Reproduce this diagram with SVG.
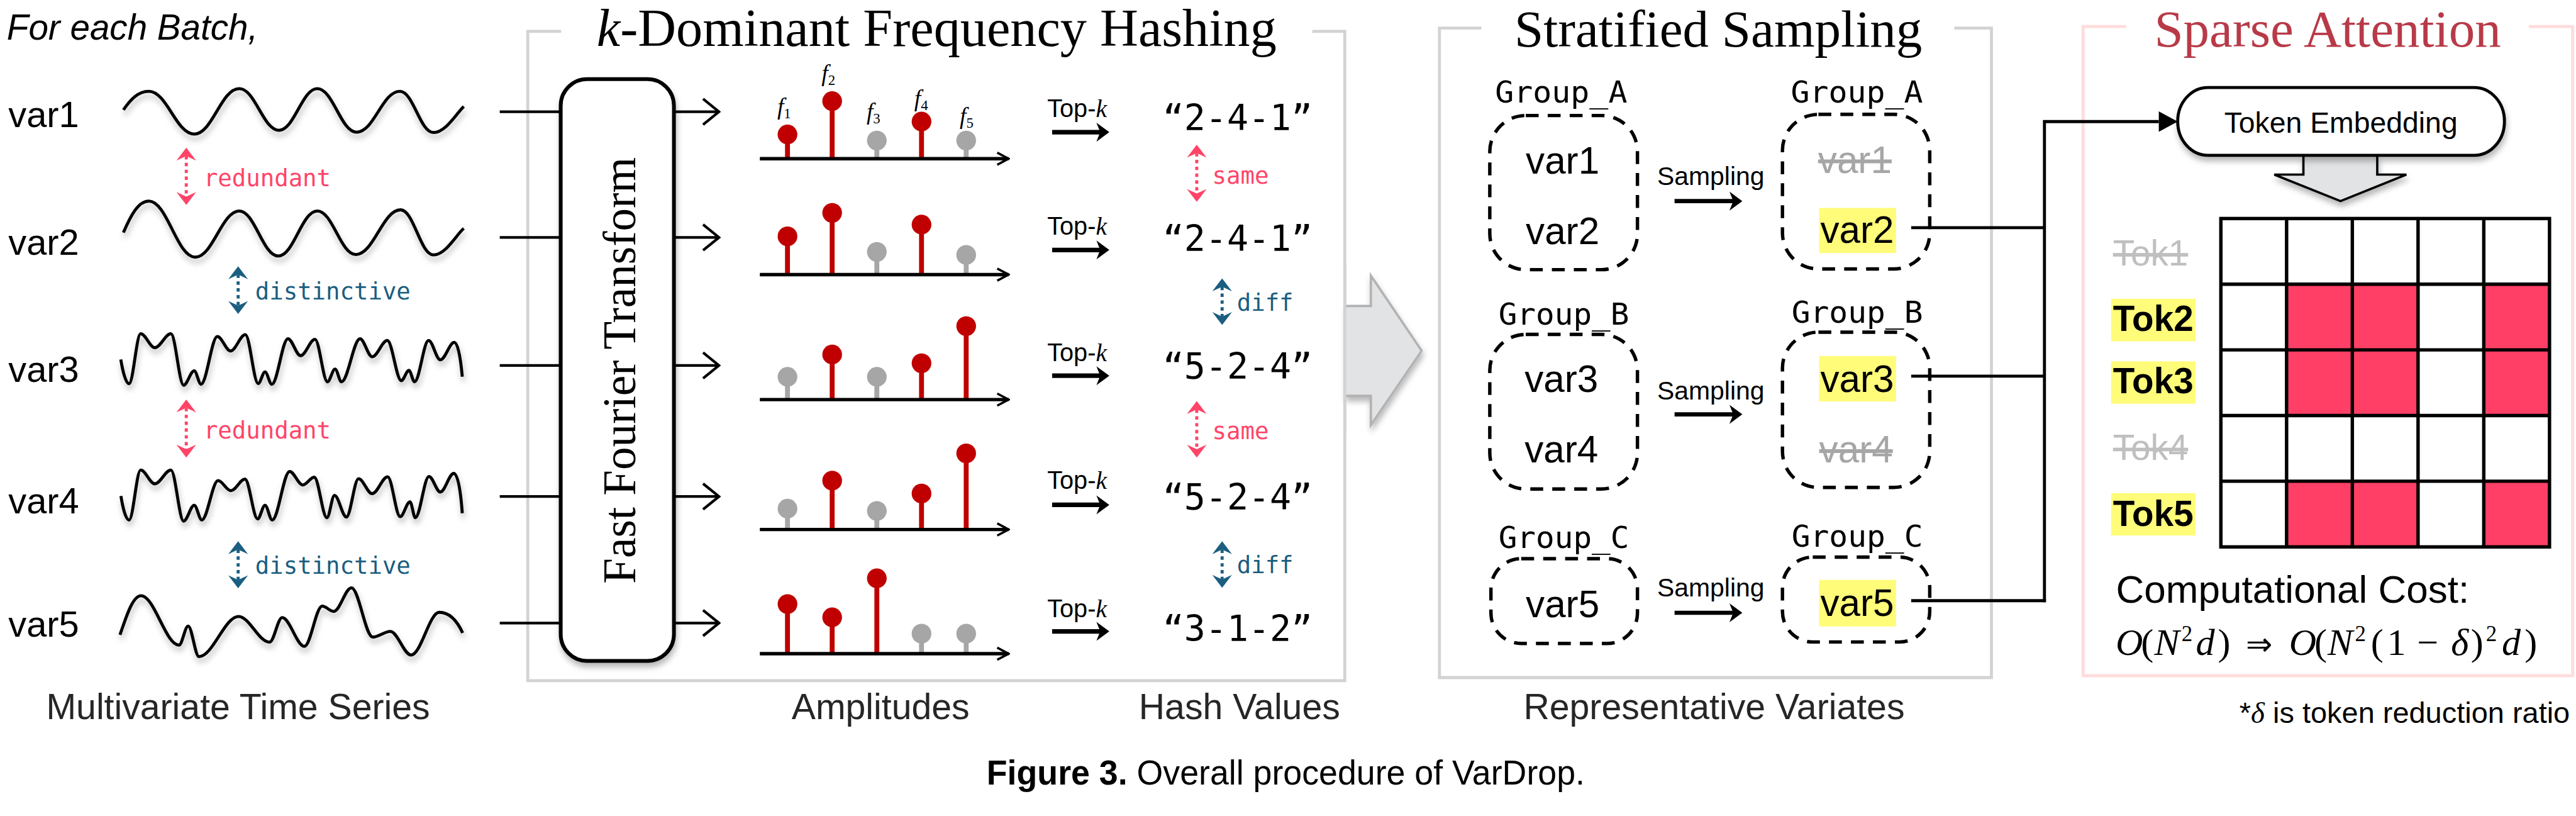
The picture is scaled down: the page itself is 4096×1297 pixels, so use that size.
<svg xmlns="http://www.w3.org/2000/svg" width="4096" height="1297" viewBox="0 0 4096 1297">
<style>
.sans{font-family:"Liberation Sans",Arial,sans-serif}
.serif{font-family:"Liberation Serif","Times New Roman",serif}
.mono{font-family:"DejaVu Sans Mono",monospace}
.wave{fill:none;stroke:#000;stroke-width:8;stroke-linejoin:round}
.ln{fill:none;stroke:#000;stroke-width:7}
.bus{fill:none;stroke:#000;stroke-width:8}
.sr{stroke:#C00000;stroke-width:13}
.sg{stroke:#A6A6A6;stroke-width:13}
.hr{fill:#C00000}
.hg{fill:#A6A6A6}
.axis{stroke:#000;stroke-width:9;marker-end:url(#axh)}
.thk{stroke:#000;stroke-width:12;marker-end:url(#thh)}
.dp{stroke:#FF4468;stroke-width:8;stroke-dasharray:9 9;marker-start:url(#hp);marker-end:url(#hp)}
.dt{stroke:#1B5E80;stroke-width:8;stroke-dasharray:9 9;marker-start:url(#ht);marker-end:url(#ht)}
.pk{fill:#FF4468}
.tl{fill:#1B5E80}
.grp{fill:none;stroke:#000;stroke-width:9;stroke-dasharray:34 24}
.frame{fill:none;stroke:#D3D3D3;stroke-width:8}
.hot{fill:#FF3F66}
.hl{fill:#FFFC7A}
.cap{fill:#262626}
.gone{fill:#A6A6A6;text-decoration:line-through}
.gone2{fill:#BFBFBF;text-decoration:line-through}
</style>
<defs>
<filter id="sh" x="-20%" y="-20%" width="140%" height="170%">
<feDropShadow dx="3" dy="12" stdDeviation="8" flood-color="#000" flood-opacity="0.28"/>
</filter>
<marker id="hp" markerUnits="userSpaceOnUse" orient="auto-start-reverse" viewBox="-14 -28 38 56" markerWidth="38" markerHeight="56" refX="0" refY="0"><path d="M22,0 L-12,-26 L0,0 L-12,26 Z" fill="#FF4468"/></marker>
<marker id="ht" markerUnits="userSpaceOnUse" orient="auto-start-reverse" viewBox="-14 -28 38 56" markerWidth="38" markerHeight="56" refX="0" refY="0"><path d="M22,0 L-12,-26 L0,0 L-12,26 Z" fill="#1B5E80"/></marker>
<marker id="thh" markerUnits="userSpaceOnUse" orient="auto" viewBox="-16 -27 38 54" markerWidth="38" markerHeight="54" refX="0" refY="0"><path d="M20,0 L-14,-25 L-4,0 L-14,25 Z" fill="#000"/></marker>
<marker id="tri" markerUnits="userSpaceOnUse" orient="auto" viewBox="-2 -28 54 56" markerWidth="54" markerHeight="56" refX="0" refY="0"><path d="M50,0 L0,-27 L0,27 Z" fill="#000"/></marker>
<marker id="opn" markerUnits="userSpaceOnUse" orient="auto" viewBox="-46 -38 50 76" markerWidth="50" markerHeight="76" refX="0" refY="0"><path d="M-42,-34 L0,0 L-42,34" fill="none" stroke="#000" stroke-width="7"/></marker>
<marker id="axh" markerUnits="userSpaceOnUse" orient="auto" viewBox="-34 -20 38 40" markerWidth="38" markerHeight="40" refX="0" refY="0"><path d="M-30,-16 L0,0 L-30,16" fill="none" stroke="#000" stroke-width="6"/></marker>
</defs>
<rect width="4096" height="1297" fill="#fff"/>
<g transform="scale(0.602)">

<!-- frames -->
<g id="frames">
<path class="frame" d="M1482,83 H1394 V1797 H3552 V83 H3466"/>
<path d="M3552,808 H3621 V728 L3755,926 L3621,1122 V1045 H3552" fill="#E2E3E5" stroke="#B2B2B2" stroke-width="6" filter="url(#sh)"/>
<path class="frame" d="M3552,700 V1150"/>
<path class="frame" d="M3913,74 H3802 V1789 H5260 V74 H5162"/>
<path class="frame" style="stroke:#FFDCDC" d="M5616,70 H5502 V1784 H6795 V70 H6679"/>
<text class="serif" x="1576" y="121" font-size="140"><tspan font-style="italic">k</tspan>-Dominant Frequency Hashing</text>
<text class="serif" x="4000" y="123" font-size="138">Stratified Sampling</text>
<text class="serif" x="5690" y="123" font-size="138" fill="#B83A48">Sparse Attention</text>
</g>

<!-- left: multivariate series -->
<g id="series">
<text class="sans" x="18" y="105" font-size="94" font-style="italic">For each Batch,</text>
<g id="var1"><text class="sans" x="22" y="335" font-size="96">var1</text>
<path class="wave" filter="url(#sh)" d="M326,290 C345,262 365,241 393,241 C441,241 465,354 513,354 C561,354 584,234 632,234 C674,234 695,344 737,344 C777,344 798,234 838,234 C880,234 900,349 942,349 C988,349 1010,241 1056,241 C1092,241 1109,350 1145,350 C1177,350 1205,300 1225,281"/></g>
<g id="var2"><text class="sans" x="22" y="673" font-size="96">var2</text>
<path class="wave" filter="url(#sh)" d="M326,614 C345,570 365,531 393,531 C442,531 467,679 516,679 C562,679 586,557 632,557 C673,557 694,676 735,676 C776,676 797,557 838,557 C879,557 899,672 940,672 C987,672 1011,554 1058,554 C1093,554 1110,673 1145,673 C1177,673 1205,620 1225,603"/></g>
<g id="var3"><text class="sans" x="22" y="1008" font-size="96">var3</text>
<path class="wave" filter="url(#sh)" d="M319,949 C325,985 333,1013 341,1013 C351.7,1013 360.8,881 371.5,881 C384.6,881 395.9,918 409,918 C423.9,918 436.6,881 451.5,881 C463.2,881 473.3,1017 485,1017 C494.8,1017 503.2,979 513,979 C519.3,979 524.7,1014.5 531,1014.5 C546,1014.5 559,888.5 574,888.5 C586.3,888.5 596.7,926.6 609,926.6 C622.7,926.6 634.3,883.6 648,883.6 C659.9,883.6 670.1,1012.7 682,1012.7 C688.3,1012.7 693.7,982 700,982 C706.3,982 711.7,1014.5 718,1014.5 C732.9,1014.5 745.6,894.5 760.5,894.5 C772.2,894.5 782.3,939 794,939 C807.3,939 818.7,896 832,896 C843.6,896 853.4,1008 865,1008 C872,1008 878,974.5 885,974.5 C891,974.5 896,1008 902,1008 C919.2,1008 933.8,894.5 951,894.5 C962.2,894.5 971.8,942 983,942 C997,942 1009,899 1023,899 C1036,899 1047,1005 1060,1005 C1067,1005 1073,978 1080,978 C1085.3,978 1089.7,1008 1095,1008 C1108,1008 1119,899 1132,899 C1142.9,899 1152.1,950 1163,950 C1176,950 1187,904 1200,904 C1210,904 1217,950 1221,994.5"/></g>
<g id="var4"><text class="sans" x="22" y="1355" font-size="96">var4</text>
<path class="wave" filter="url(#sh)" d="M319.4,1309.6 C325,1345 333,1373 341,1373 C351.7,1373 360.8,1241 371.5,1241 C384.6,1241 395.9,1277.4 409,1277.4 C423.9,1277.4 436.6,1241 451.5,1241 C463.2,1241 473.3,1376 485,1376 C494.8,1376 503.2,1334 513,1334 C520,1334 526,1373 533,1373 C548,1373 561,1269 576,1269 C587.9,1269 598.1,1295.6 610,1295.6 C623,1295.6 634,1265 647,1265 C658.7,1265 668.8,1370 680.5,1370 C687.3,1370 693.2,1334 700,1334 C706.7,1334 712.3,1373 719,1373 C735.1,1373 748.9,1245 765,1245 C777.3,1245 787.7,1280.5 800,1280.5 C810.5,1280.5 819.5,1260 830,1260 C841.7,1260 851.8,1367 863.5,1367 C870.5,1367 876.5,1308 883.5,1308 C894.5,1308 904,1365 915,1365 C926.2,1365 935.8,1264 947,1264 C959.6,1264 970.4,1303.5 983,1303.5 C997.4,1303.5 1009.6,1259 1024,1259 C1035.6,1259 1045.4,1364 1057,1364 C1066.1,1364 1073.9,1325 1083,1325 C1087.9,1325 1092.1,1367 1097,1367 C1109.6,1367 1120.4,1258 1133,1258 C1143.5,1258 1152.5,1299 1163,1299 C1175.4,1299 1186.1,1250 1198.5,1250 C1210,1250 1217,1300 1221,1355"/></g>
<g id="var5"><text class="sans" x="22" y="1681" font-size="96">var5</text>
<path class="wave" filter="url(#sh)" d="M317,1676 C333,1630 350,1573 372.7,1573 C407.7,1573 437.7,1703.4 472.7,1703.4 C481.2,1703.4 488.5,1653 497,1653 C506.9,1653 515.5,1733.7 525.4,1733.7 C562,1733.7 593.4,1627.6 630,1627.6 C658.7,1627.6 683.3,1695.5 712,1695.5 C723.7,1695.5 733.6,1630.7 745.3,1630.7 C765.8,1630.7 783.5,1706.4 804,1706.4 C820.5,1706.4 834.5,1600.4 851,1600.4 C861.7,1600.4 870.9,1614.3 881.6,1614.3 C897.9,1614.3 912,1552 928.3,1552 C948,1552 964.9,1682 984.6,1682 C1000.8,1682 1014.8,1667 1031,1667 C1050.2,1667 1066.6,1729.4 1085.8,1729.4 C1111.9,1729.4 1134.2,1616.7 1160.3,1616.7 C1190,1616.7 1210,1645 1222,1671"/></g>
<text class="mono pk" x="538" y="491" font-size="62">redundant</text>
<text class="mono tl" x="674" y="790" font-size="62">distinctive</text>
<text class="mono pk" x="538" y="1158" font-size="62">redundant</text>
<text class="mono tl" x="674" y="1515" font-size="62">distinctive</text>
<text class="sans cap" x="122" y="1898" font-size="95">Multivariate Time Series</text>
</g>

<!-- FFT -->
<g id="fft">
<rect x="1481" y="209" width="299" height="1536" rx="70" fill="#fff" stroke="#000" stroke-width="10" filter="url(#sh)"/>
<text class="serif" transform="translate(1677,978) rotate(-90)" text-anchor="middle" font-size="122" textLength="1126" lengthAdjust="spacingAndGlyphs">Fast Fourier Transform</text>
</g>

<!-- amplitudes -->
<g id="amplitudes">
<g id="amp1">
<line class="sr" x1="2080" y1="419" x2="2080" y2="355"/><line class="sr" x1="2198" y1="419" x2="2198" y2="267"/><line class="sg" x1="2316" y1="419" x2="2316" y2="371"/><line class="sr" x1="2434" y1="419" x2="2434" y2="321"/><line class="sg" x1="2552" y1="419" x2="2552" y2="371"/>
<circle class="hr" cx="2080" cy="355" r="26"/><circle class="hr" cx="2198" cy="267" r="26"/><circle class="hg" cx="2316" cy="371" r="26"/><circle class="hr" cx="2434" cy="321" r="26"/><circle class="hg" cx="2552" cy="371" r="26"/>
<line class="axis" x1="2007" y1="419" x2="2664" y2="419"/>
<g class="serif" font-size="62" font-style="italic">
<text x="2053" y="302">f<tspan font-style="normal" font-size="38" dy="10">1</tspan></text>
<text x="2170" y="214">f<tspan font-style="normal" font-size="38" dy="10">2</tspan></text>
<text x="2289" y="315">f<tspan font-style="normal" font-size="38" dy="10">3</tspan></text>
<text x="2415" y="280">f<tspan font-style="normal" font-size="38" dy="10">4</tspan></text>
<text x="2535" y="328">f<tspan font-style="normal" font-size="38" dy="10">5</tspan></text>
</g>
</g>
<g id="amp2">
<line class="sr" x1="2080" y1="725" x2="2080" y2="624"/><line class="sr" x1="2198" y1="725" x2="2198" y2="562"/><line class="sg" x1="2316" y1="725" x2="2316" y2="665"/><line class="sr" x1="2434" y1="725" x2="2434" y2="593"/><line class="sg" x1="2552" y1="725" x2="2552" y2="673"/>
<circle class="hr" cx="2080" cy="624" r="26"/><circle class="hr" cx="2198" cy="562" r="26"/><circle class="hg" cx="2316" cy="665" r="26"/><circle class="hr" cx="2434" cy="593" r="26"/><circle class="hg" cx="2552" cy="673" r="26"/>
<line class="axis" x1="2007" y1="725" x2="2664" y2="725"/>
</g>
<g id="amp3">
<line class="sg" x1="2080" y1="1055" x2="2080" y2="995"/><line class="sr" x1="2198" y1="1055" x2="2198" y2="936"/><line class="sg" x1="2316" y1="1055" x2="2316" y2="995"/><line class="sr" x1="2434" y1="1055" x2="2434" y2="959"/><line class="sr" x1="2552" y1="1055" x2="2552" y2="861"/>
<circle class="hg" cx="2080" cy="995" r="26"/><circle class="hr" cx="2198" cy="936" r="26"/><circle class="hg" cx="2316" cy="995" r="26"/><circle class="hr" cx="2434" cy="959" r="26"/><circle class="hr" cx="2552" cy="861" r="26"/>
<line class="axis" x1="2007" y1="1055" x2="2664" y2="1055"/>
</g>
<g id="amp4">
<line class="sg" x1="2080" y1="1398" x2="2080" y2="1343"/><line class="sr" x1="2198" y1="1398" x2="2198" y2="1269"/><line class="sg" x1="2316" y1="1398" x2="2316" y2="1349"/><line class="sr" x1="2434" y1="1398" x2="2434" y2="1303"/><line class="sr" x1="2552" y1="1398" x2="2552" y2="1197"/>
<circle class="hg" cx="2080" cy="1343" r="26"/><circle class="hr" cx="2198" cy="1269" r="26"/><circle class="hg" cx="2316" cy="1349" r="26"/><circle class="hr" cx="2434" cy="1303" r="26"/><circle class="hr" cx="2552" cy="1197" r="26"/>
<line class="axis" x1="2007" y1="1398" x2="2664" y2="1398"/>
</g>
<g id="amp5">
<line class="sr" x1="2080" y1="1726" x2="2080" y2="1595"/><line class="sr" x1="2198" y1="1726" x2="2198" y2="1630"/><line class="sr" x1="2316" y1="1726" x2="2316" y2="1527"/><line class="sg" x1="2434" y1="1726" x2="2434" y2="1673"/><line class="sg" x1="2552" y1="1726" x2="2552" y2="1673"/>
<circle class="hr" cx="2080" cy="1595" r="26"/><circle class="hr" cx="2198" cy="1630" r="26"/><circle class="hr" cx="2316" cy="1527" r="26"/><circle class="hg" cx="2434" cy="1673" r="26"/><circle class="hg" cx="2552" cy="1673" r="26"/>
<line class="axis" x1="2007" y1="1726" x2="2664" y2="1726"/>
</g>
<text class="sans cap" x="2091" y="1899" font-size="95">Amplitudes</text>
</g>

<!-- hash values -->
<g id="hashes">
<g class="sans" font-size="66">
<text x="2766" y="309">Top-<tspan class="serif" font-style="italic">k</tspan></text>
<text x="2766" y="620">Top-<tspan class="serif" font-style="italic">k</tspan></text>
<text x="2766" y="953">Top-<tspan class="serif" font-style="italic">k</tspan></text>
<text x="2766" y="1291">Top-<tspan class="serif" font-style="italic">k</tspan></text>
<text x="2766" y="1629">Top-<tspan class="serif" font-style="italic">k</tspan></text>
</g>
<g class="mono" font-size="94">
<text id="h1" x="3071" y="344">“2-4-1”</text>
<text id="h2" x="3071" y="663">“2-4-1”</text>
<text id="h3" x="3071" y="1000">“5-2-4”</text>
<text id="h4" x="3071" y="1346">“5-2-4”</text>
<text id="h5" x="3071" y="1692">“3-1-2”</text>
</g>
<text class="mono pk" x="3202" y="485" font-size="62">same</text>
<text class="mono tl" x="3267" y="820" font-size="62">diff</text>
<text class="mono pk" x="3202" y="1160" font-size="62">same</text>
<text class="mono tl" x="3267" y="1513" font-size="62">diff</text>
<text class="sans cap" x="3008" y="1899" font-size="95">Hash Values</text>
</g>

<!-- stratified sampling -->
<g id="stratified">
<g class="mono" font-size="80">
<text x="3949" y="270" textLength="349" lengthAdjust="spacingAndGlyphs">Group_A</text>
<text x="4730" y="270" textLength="349" lengthAdjust="spacingAndGlyphs">Group_A</text>
<text x="3958" y="857" textLength="345" lengthAdjust="spacingAndGlyphs">Group_B</text>
<text x="4732" y="852" textLength="347" lengthAdjust="spacingAndGlyphs">Group_B</text>
<text x="3958" y="1447" textLength="345" lengthAdjust="spacingAndGlyphs">Group_C</text>
<text x="4732" y="1443" textLength="347" lengthAdjust="spacingAndGlyphs">Group_C</text>
</g>
<g id="groupA_in"><rect class="grp" x="3935" y="305" width="390" height="407" rx="95"/>
<text class="sans" x="4030" y="459" font-size="100">var1</text><text class="sans" x="4030" y="644" font-size="100">var2</text></g>
<g id="groupB_in"><rect class="grp" x="3935" y="883" width="390" height="408" rx="95"/>
<text class="sans" x="4027" y="1035" font-size="100">var3</text><text class="sans" x="4027" y="1221" font-size="100">var4</text></g>
<g id="groupC_in"><rect class="grp" x="3938" y="1475" width="387" height="224" rx="80"/>
<text class="sans" x="4030" y="1629" font-size="100">var5</text></g>
<g id="groupA_out"><rect class="grp" x="4708" y="302" width="389" height="408" rx="95"/>
<text class="sans gone" x="4802" y="456" font-size="100">var1</text>
<rect class="hl" x="4805" y="549" width="203" height="119"/><text class="sans" x="4808" y="642" font-size="100">var2</text></g>
<g id="groupB_out"><rect class="grp" x="4708" y="877" width="389" height="410" rx="95"/>
<rect class="hl" x="4805" y="940" width="203" height="120"/><text class="sans" x="4808" y="1035" font-size="100">var3</text>
<text class="sans gone" x="4805" y="1221" font-size="100">var4</text></g>
<g id="groupC_out"><rect class="grp" x="4708" y="1471" width="389" height="224" rx="80"/>
<rect class="hl" x="4805" y="1531" width="203" height="123"/><text class="sans" x="4808" y="1626" font-size="100">var5</text></g>
<g class="sans" font-size="68">
<text x="4377" y="488">Sampling</text>
<text x="4377" y="1055">Sampling</text>
<text x="4377" y="1574">Sampling</text>
</g>
<text class="sans cap" x="4024" y="1898" font-size="95">Representative Variates</text>
</g>

<!-- sparse attention -->
<g id="sparse">
<path d="M6084,410 V461 H6007 L6182,531 L6356,461 H6279 V410" fill="#E2E3E5" stroke="#000" stroke-width="6" filter="url(#sh)"/>
<g id="token_embedding">
<rect x="5752" y="231" width="863" height="179" rx="80" ry="89" fill="#fff" stroke="#000" stroke-width="8" filter="url(#sh)"/>
<text class="sans" x="6183" y="351" font-size="77" text-anchor="middle">Token Embedding</text>
</g>
<g id="attention_grid">
<rect x="5866" y="577" width="868" height="867" fill="#fff"/>
<rect class="hot" x="6039.6" y="750.4" width="347.2" height="346.8"/>
<rect class="hot" x="6560.4" y="750.4" width="173.6" height="346.8"/>
<rect class="hot" x="6039.6" y="1270.6" width="347.2" height="173.4"/>
<rect class="hot" x="6560.4" y="1270.6" width="173.6" height="173.4"/>
<path fill="none" stroke="#000" stroke-width="9" d="M6039.6,577 V1444 M6213.2,577 V1444 M6386.8,577 V1444 M6560.4,577 V1444 M5866,750.4 H6734 M5866,923.8 H6734 M5866,1097.2 H6734 M5866,1270.6 H6734"/>
<rect x="5866" y="577" width="868" height="867" fill="none" stroke="#000" stroke-width="9"/>
</g>
<g id="tokens" class="sans" font-size="94">
<text class="gone2" x="5581" y="701">Tok1</text>
<rect class="hl" x="5576" y="789" width="223" height="112"/><text x="5581" y="873" font-weight="bold">Tok2</text>
<rect class="hl" x="5576" y="954" width="223" height="112"/><text x="5581" y="1038" font-weight="bold">Tok3</text>
<text class="gone2" x="5581" y="1215">Tok4</text>
<rect class="hl" x="5576" y="1302" width="223" height="112"/><text x="5581" y="1389" font-weight="bold">Tok5</text>
</g>
<text class="sans" x="5589" y="1592" font-size="103">Computational Cost:</text>
<text class="serif" font-size="100">
<tspan x="5588" y="1729" font-style="italic">O</tspan><tspan x="5655" y="1729">(</tspan><tspan x="5690" y="1729" font-style="italic">N</tspan><tspan x="5762" y="1693" font-size="58">2</tspan><tspan x="5800" y="1729" font-style="italic">d</tspan><tspan x="5858" y="1729">)</tspan><tspan x="5932" y="1729" font-family="DejaVu Sans" font-size="84">⇒</tspan><tspan x="6046" y="1729" font-style="italic">O</tspan><tspan x="6113" y="1729">(</tspan><tspan x="6148" y="1729" font-style="italic">N</tspan><tspan x="6220" y="1693" font-size="58">2</tspan><tspan x="6262" y="1729">(</tspan><tspan x="6305" y="1729">1</tspan><tspan x="6384" y="1729">−</tspan><tspan x="6474" y="1729" font-style="italic">δ</tspan><tspan x="6526" y="1729">)</tspan><tspan x="6566" y="1693" font-size="58">2</tspan><tspan x="6608" y="1729" font-style="italic">d</tspan><tspan x="6668" y="1729">)</tspan>
</text>
<text class="sans" x="5915" y="1909" font-size="78">*<tspan class="serif" font-style="italic">δ</tspan> is token reduction ratio</text>
</g>

<!-- connectors -->
<g id="connectors">
<path class="ln" d="M1320,295 H1481 M1320,627 H1481 M1320,965 H1481 M1320,1311 H1481 M1320,1645 H1481"/>
<line class="ln" x1="1780" y1="295" x2="1899" y2="295" marker-end="url(#opn)"/>
<line class="ln" x1="1780" y1="627" x2="1899" y2="627" marker-end="url(#opn)"/>
<line class="ln" x1="1780" y1="965" x2="1899" y2="965" marker-end="url(#opn)"/>
<line class="ln" x1="1780" y1="1311" x2="1899" y2="1311" marker-end="url(#opn)"/>
<line class="ln" x1="1780" y1="1645" x2="1899" y2="1645" marker-end="url(#opn)"/>
<line class="dp" x1="492" y1="412" x2="492" y2="519"/>
<line class="dt" x1="629" y1="725" x2="629" y2="807"/>
<line class="dp" x1="492" y1="1077" x2="492" y2="1186"/>
<line class="dt" x1="629" y1="1451" x2="629" y2="1531"/>
<line class="thk" x1="2779" y1="349" x2="2910" y2="349"/>
<line class="thk" x1="2779" y1="660" x2="2910" y2="660"/>
<line class="thk" x1="2779" y1="992" x2="2910" y2="992"/>
<line class="thk" x1="2779" y1="1333" x2="2910" y2="1333"/>
<line class="thk" x1="2779" y1="1667" x2="2910" y2="1667"/>
<line class="dp" x1="3161" y1="404" x2="3161" y2="511"/>
<line class="dt" x1="3228" y1="757" x2="3228" y2="836"/>
<line class="dp" x1="3161" y1="1081" x2="3161" y2="1186"/>
<line class="dt" x1="3228" y1="1451" x2="3228" y2="1530"/>
<line class="thk" style="stroke-width:11" x1="4423" y1="531" x2="4582" y2="531"/>
<line class="thk" style="stroke-width:11" x1="4423" y1="1094" x2="4582" y2="1094"/>
<line class="thk" style="stroke-width:11" x1="4423" y1="1618" x2="4582" y2="1618"/>
<path class="bus" d="M5048,601 H5400 M5048,993 H5400 M5048,1586 H5404"/>
<path class="bus" d="M5400,1590 V321 H5702" marker-end="url(#tri)"/>
</g>

<text class="sans" x="2606" y="2071" font-size="91" textLength="1580" lengthAdjust="spacingAndGlyphs"><tspan font-weight="bold">Figure 3.</tspan> Overall procedure of VarDrop.</text>
</g>
</svg>
